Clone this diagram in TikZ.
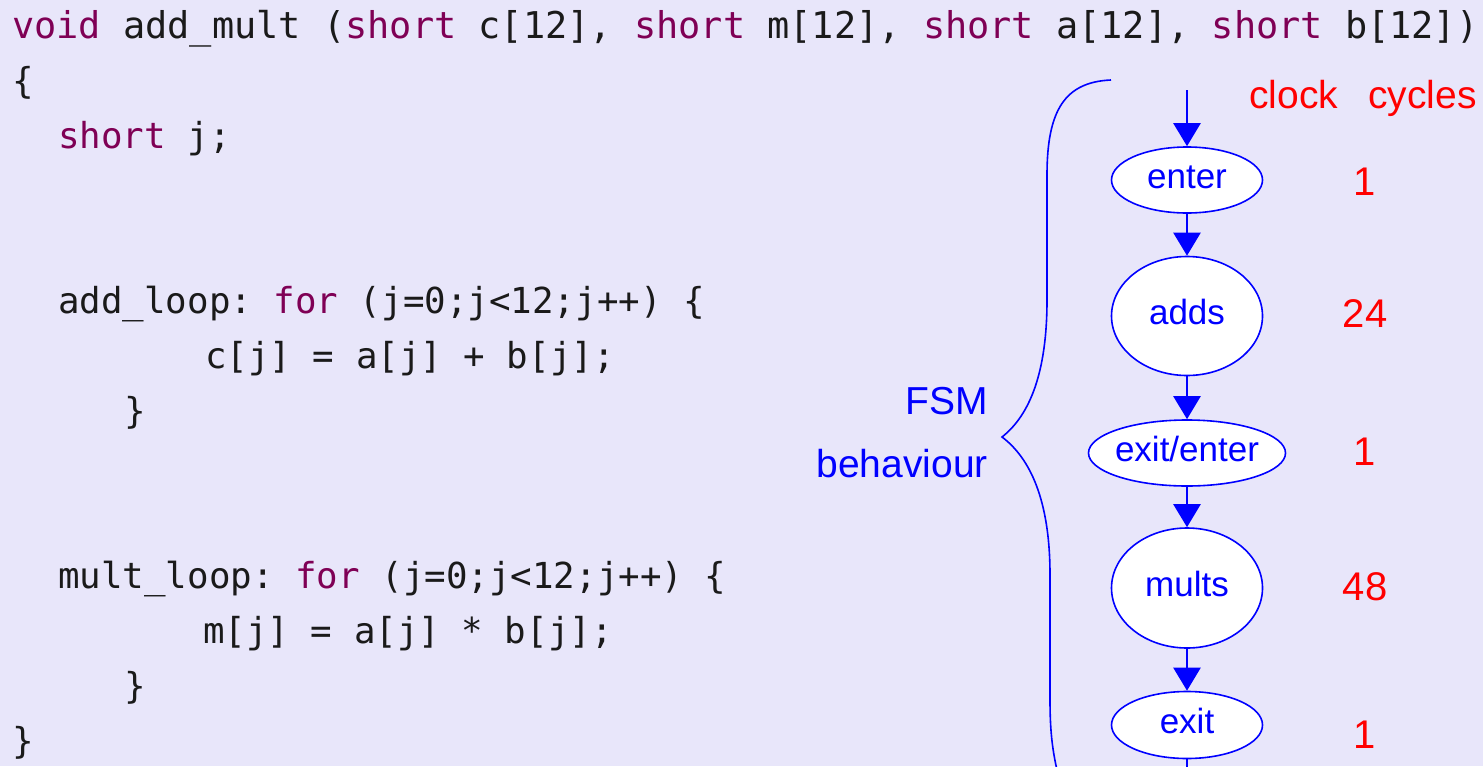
\documentclass[tikz,border=0pt]{standalone}
\usepackage{fontspec}
\setmainfont{Liberation Sans}
\setmonofont{DejaVu Sans Mono}
\usetikzlibrary{shapes.geometric,arrows.meta}
\definecolor{bgc}{HTML}{E8E6FA}
\definecolor{kwc}{HTML}{7F0055}
\definecolor{idc}{HTML}{1A1A1A}
\definecolor{fsmblue}{HTML}{0000FF}
\definecolor{cycred}{HTML}{FF0000}
\newcommand{\kwd}[1]{\textcolor{kwc}{#1}}
\newcommand{\lbl}[1]{\makebox[0pt]{#1}}
\begin{document}
\begin{tikzpicture}[x=1pt,y=-1pt,
  codeline/.style={anchor=base west,inner sep=0pt,text=idc,font=\ttfamily\fontsize{35.8}{40}\selectfont},
  codefirst/.style={codeline,font=\ttfamily\fontsize{36.9}{40}\selectfont},
  state/.style={ellipse,draw=fsmblue,fill=white,line width=1.6pt,inner sep=0pt,
    text=fsmblue,text height=16pt,text depth=0pt,font=\fontsize{35}{40}\selectfont},
  flow/.style={draw=fsmblue,line width=2.4pt,-{Triangle[width=27pt,length=23pt]}},
  cyc/.style={anchor=base,inner sep=0pt,text=cycred,font=\fontsize{40}{44}\selectfont},
  fsmlabel/.style={anchor=base east,inner sep=0pt,text=fsmblue,font=\fontsize{39}{44}\selectfont},
  bracepath/.style={draw=fsmblue,line width=1.6pt}]
\useasboundingbox (0,0) rectangle (1483,766);
\fill[bgc] (0,0) rectangle (1483,766);
\clip (0,0) rectangle (1483,766);

% code
\node[codefirst] (l1) at (12,38) {\kwd{void} add\_mult (\kwd{short} c[12], \kwd{short} m[12], \kwd{short} a[12], \kwd{short} b[12])};
\node[codeline] (l2) at (12,93) {\{};
\node[codeline] (l3) at (58,148) {\kwd{short} j;};
\node[codeline] (l6) at (58,313) {add\_loop: \kwd{for} (j=0;j<12;j++) \{};
\node[codeline] (l7) at (205,368) {c[j] = a[j] + b[j];};
\node[codeline] (l8) at (124,423) {\}};
\node[codeline] (l11) at (58,588) {mult\_loop: \kwd{for} (j=0;j<12;j++) \{};
\node[codeline] (l12) at (203,643) {m[j] = a[j] * b[j];};
\node[codeline] (l13) at (124,698) {\}};
\node[codeline] (l14) at (12,753) {\}};

% FSM states
\node[state,minimum width=151pt,minimum height=66pt] (enter) at (1187,180) {\lbl{enter}};
\node[state,minimum width=151pt,minimum height=119pt] (adds) at (1187,316) {\lbl{adds}};
\node[state,minimum width=197pt,minimum height=66pt] (exen) at (1187,453) {\lbl{exit/enter}};
\node[state,minimum width=151pt,minimum height=120pt] (mults) at (1187,588) {\lbl{mults}};
\node[state,minimum width=151pt,minimum height=67pt] (exit) at (1187,725) {\lbl{exit}};

\coordinate (top) at (1187,90);
\coordinate (bot) at (1187,800);
\draw[flow] (top) -- (enter);
\draw[flow] (enter) -- (adds);
\draw[flow] (adds) -- (exen);
\draw[flow] (exen) -- (mults);
\draw[flow] (mults) -- (exit);
\draw[flow] (exit) -- (bot);

% clock cycles
\node[anchor=base west,inner sep=0pt,text=cycred,font=\fontsize{39}{44}\selectfont] (cc) at (1249,108) {clock\hspace{0.78em}cycles};
\node[cyc] (c1) at (1365,195) {1};
\node[cyc] (c2) at (1365,327) {24};
\node[cyc] (c3) at (1365,465) {1};
\node[cyc] (c4) at (1365,600) {48};
\node[cyc] (c5) at (1365,748) {1};

% FSM behaviour brace
\node[fsmlabel] (fsm) at (988,414) {FSM};
\node[fsmlabel] (beh) at (988,477) {behaviour};
\draw[bracepath] (1111,80) .. controls (1065,82) and (1047,110) .. (1047,175)
  -- (1047,300) .. controls (1047,372) and (1030,415) .. (1002,437)
  .. controls (1030,458) and (1050,500) .. (1050,575)
  -- (1050,700) .. controls (1050,740) and (1054,760) .. (1062,790);
\end{tikzpicture}
\end{document}
